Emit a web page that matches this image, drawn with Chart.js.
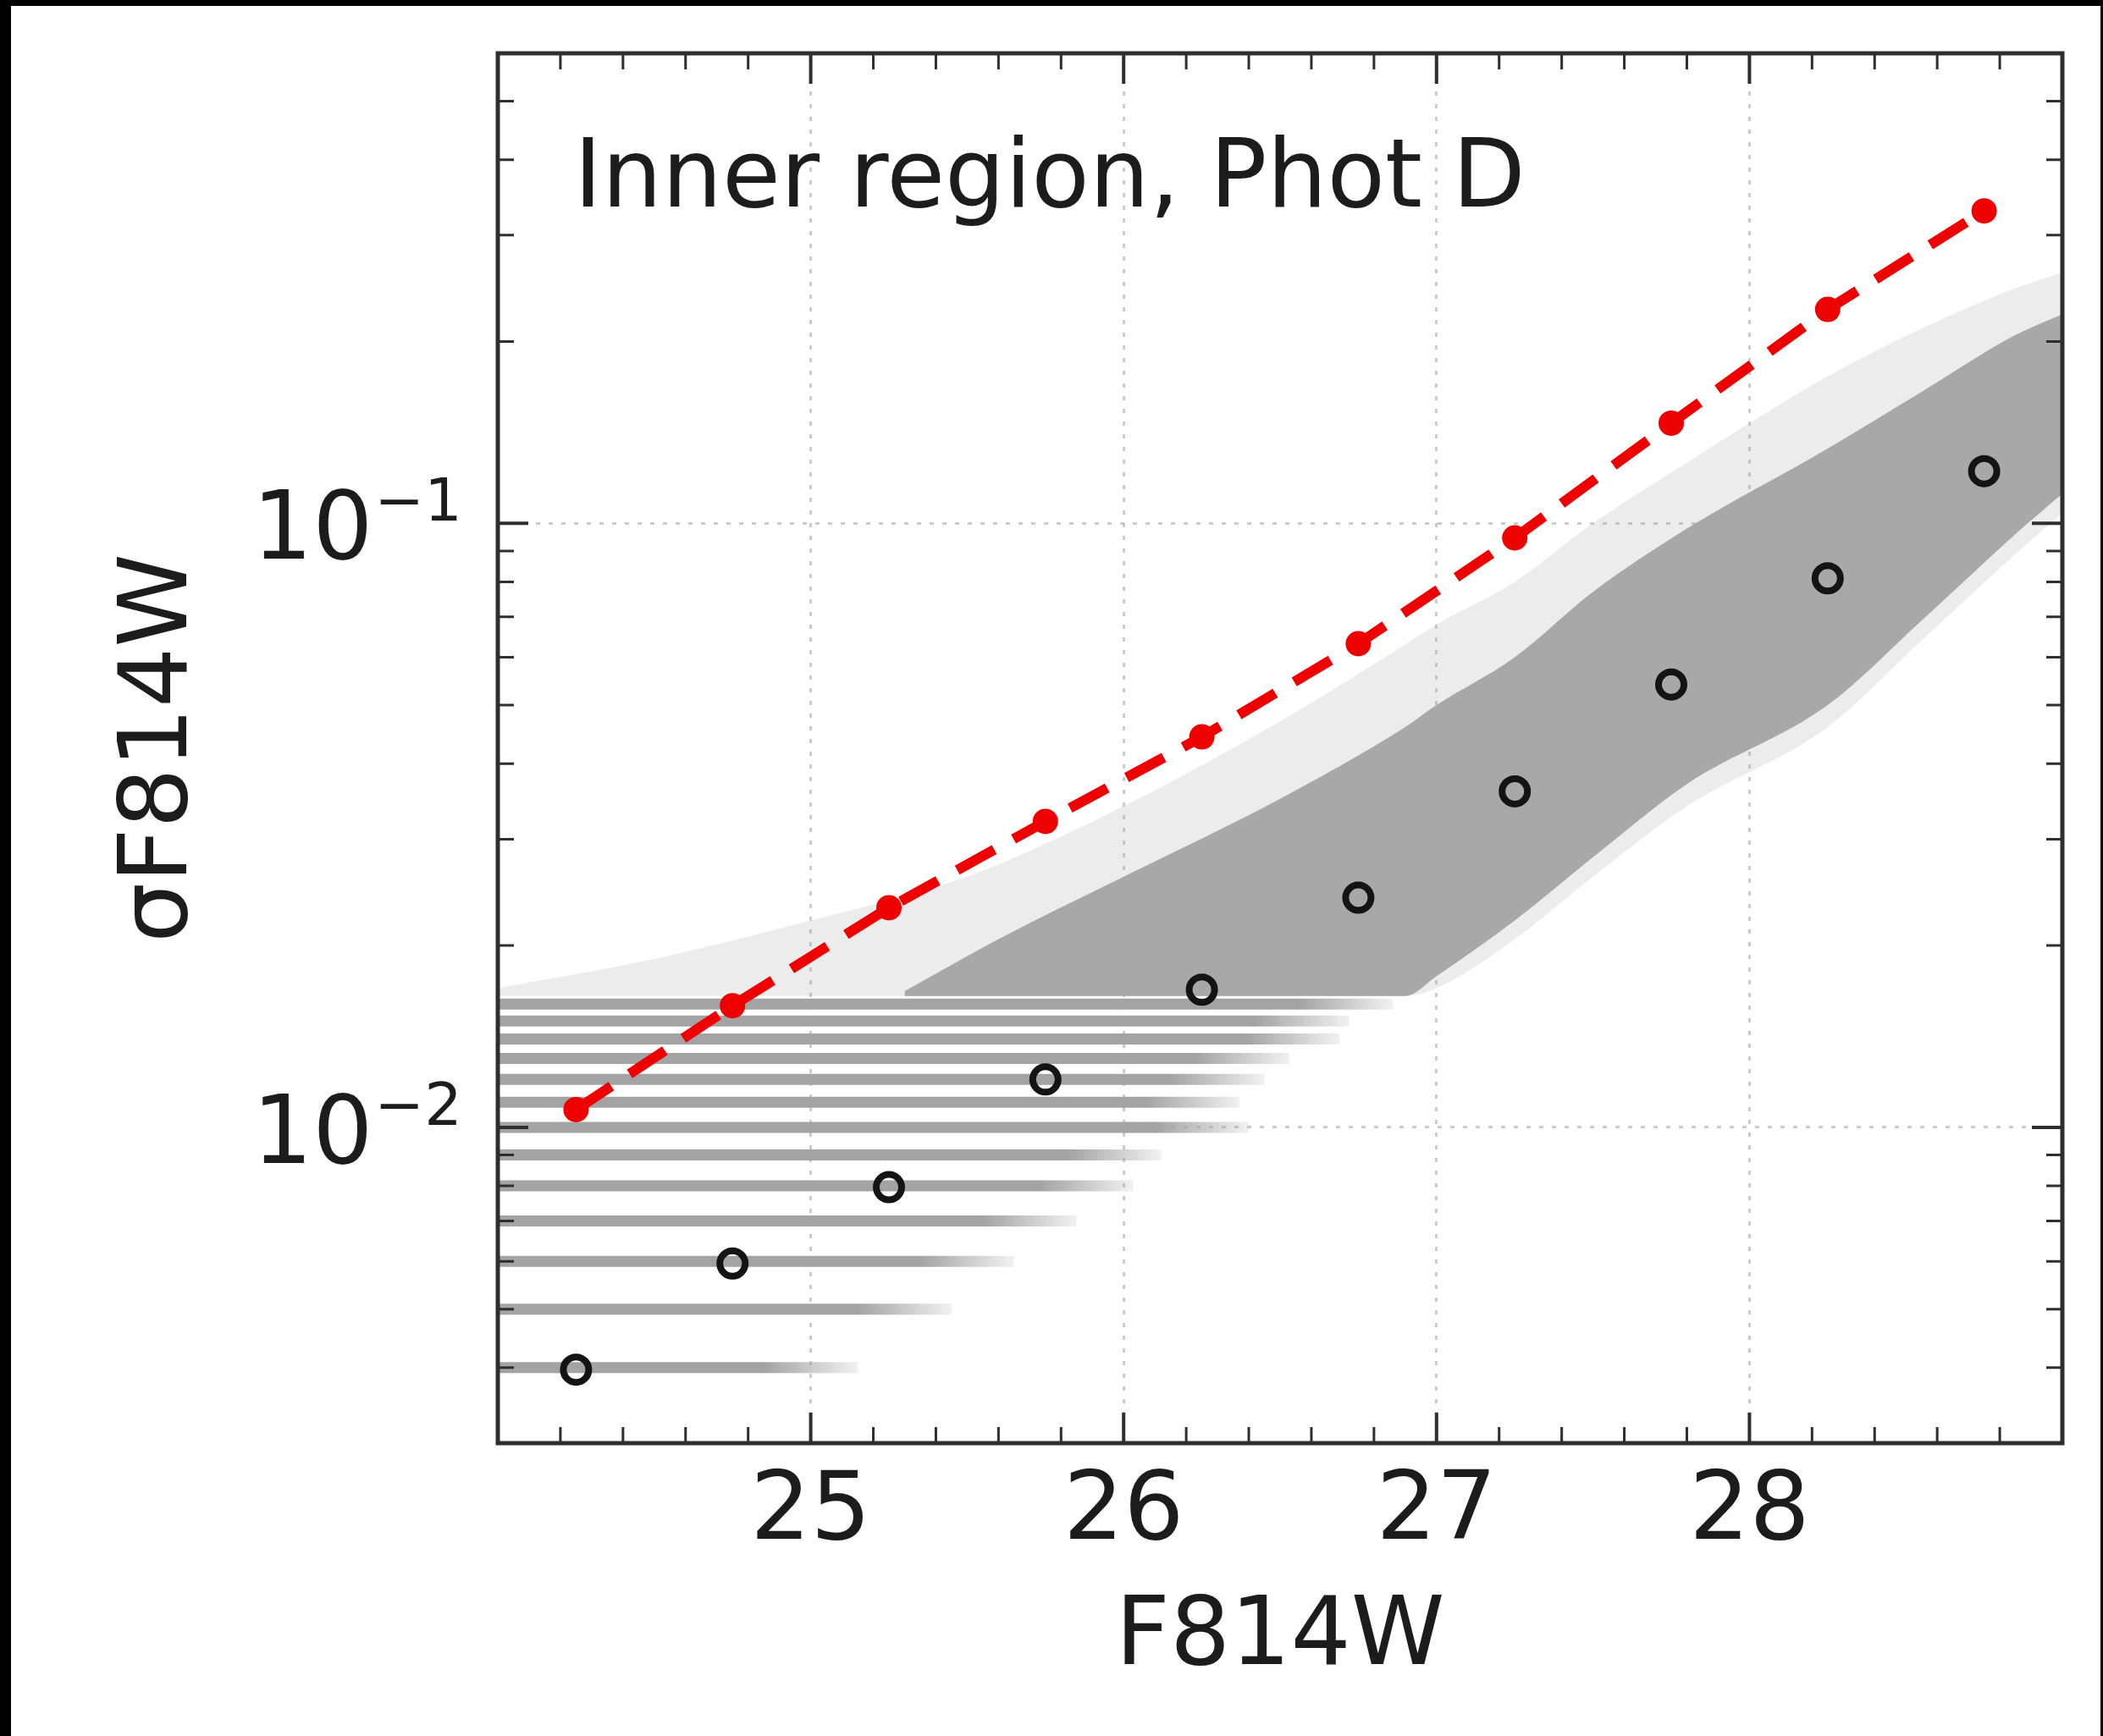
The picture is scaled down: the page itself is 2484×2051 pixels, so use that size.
<!DOCTYPE html>
<html>
<head>
<meta charset="utf-8">
<script src="https://cdn.jsdelivr.net/npm/chart.js@4.4.1/dist/chart.umd.min.js"></script>
<style>
  html, body { margin: 0; padding: 0; background: #ffffff; }
  body { width: 2484px; height: 2051px; overflow: hidden; position: relative; }
  #wrap { position: absolute; left: 0; top: 0; width: 2484px; height: 2051px; }
  #edge { position: absolute; left: 0; top: 0; width: 2484px; height: 2051px; box-sizing: border-box;
          border-left: 13px solid #000; border-top: 7px solid #000; border-right: 3px solid #000; pointer-events: none; }
</style>
</head>
<body>
<div id="wrap"><canvas id="c" width="2484" height="2051"></canvas></div>
<div id="edge"></div>
<script>
// ---------------- data ----------------
const magBins     = [24.25, 24.75, 25.25, 25.75, 26.25, 26.75, 27.25, 27.75, 28.25, 28.75];
const sigmaMedian = [0.00397, 0.00595, 0.00796, 0.0120, 0.0169, 0.0240, 0.0360, 0.0541, 0.0811, 0.122];
const sigmaLimit  = [0.0107, 0.0159, 0.0231, 0.0321, 0.0443, 0.0632, 0.0946, 0.1465, 0.226, 0.329];

// quantised error "streaks" of bright stars (sigma level, faint end magnitude)
const streakSigma = [0.004, 0.005, 0.006, 0.007, 0.008, 0.009, 0.010, 0.011, 0.012, 0.013, 0.014, 0.015, 0.016];
const streakEnd   = [25.15, 25.45, 25.65, 25.85, 26.03, 26.12, 26.40, 26.37, 26.45, 26.53, 26.69, 26.72, 26.86];
const streakStart = 24.0;

// envelope of the dense part of the star cloud
const denseMag   = [25.3, 25.6, 26.0, 26.5, 26.9, 27.0, 27.25, 27.5, 27.8, 28.25, 28.55, 28.85, 29.0];
const denseUpper = [0.0168, 0.0205, 0.026, 0.035, 0.046, 0.050, 0.060, 0.077, 0.098, 0.133, 0.165, 0.205, 0.222];
const denseLower = [0.0165, 0.0165, 0.0165, 0.0165, 0.0165, 0.0178, 0.022, 0.028, 0.037, 0.050, 0.069, 0.096, 0.112];

// envelope of the sparse outskirts of the star cloud
const haloMag   = [24.0, 24.5, 25.0, 25.5, 26.0, 26.5, 26.9, 27.0, 27.25, 27.5, 27.8, 28.25, 28.55, 28.85, 29.0];
const haloUpper = [0.017, 0.019, 0.022, 0.026, 0.034, 0.047, 0.063, 0.068, 0.080, 0.100, 0.126, 0.175, 0.21, 0.245, 0.26];
const haloLower = [0.0165, 0.0165, 0.0165, 0.0165, 0.0165, 0.0165, 0.0165, 0.0170, 0.0205, 0.026, 0.034, 0.046, 0.064, 0.089, 0.104];

const xRange = [24.0, 29.0];
const yRange = [0.003, 0.6];
const xTickLabels = ['25', '26', '27', '28'];
const yLabelValues = [0.01, 0.1];
const yLabelBase = ['10', '10'];
const yLabelExp  = ['\u22122', '\u22121'];
const panelLabel = 'Inner region, Phot D';
const xTitle = 'F814W';
const yTitle = '\u03C3F814W';

// ---------------- build datasets ----------------
const pts = (xs, ys) => xs.map((v, i) => ({ x: v, y: ys[i] }));
const FONT = 'DejaVu Sans';
Chart.defaults.font.family = FONT;

const datasets = [];
datasets.push({ // red limit line
  label: 'limit', data: pts(magBins, sigmaLimit), order: 0,
  borderColor: 'rgb(238,0,0)', borderWidth: 12, borderDash: [50, 26], tension: 0,
  pointRadius: 15, pointBackgroundColor: 'rgb(238,0,0)', pointBorderWidth: 0, fill: false
});
datasets.push({ // median open circles
  label: 'median', data: pts(magBins, sigmaMedian), order: 1, showLine: false,
  pointRadius: 15, pointBorderWidth: 8, pointBorderColor: '#141414', pointBackgroundColor: 'rgba(0,0,0,0)', fill: false
});
streakSigma.forEach((s, i) => {
  datasets.push({
    label: 'streak' + i, data: pts([streakStart, streakEnd[i]], [s, s]), order: 2,
    borderWidth: 13, pointRadius: 0, fill: false, borderCapStyle: 'butt',
    borderColor: (c) => {
      const ch = c.chart, xs = ch.scales.x;
      if (!xs || !ch.chartArea) return 'rgb(163,163,163)';
      const x0 = xs.getPixelForValue(streakEnd[i] - 0.3), x1 = xs.getPixelForValue(streakEnd[i]);
      const g = ch.ctx.createLinearGradient(x0, 0, x1, 0);
      g.addColorStop(0, 'rgba(163,163,163,1)');
      g.addColorStop(1, 'rgba(163,163,163,0.15)');
      return g;
    }
  });
});
const denseIdx = datasets.length;
datasets.push({ label: 'denseUpper', data: pts(denseMag, denseUpper), order: 3, borderWidth: 0, pointRadius: 0,
  cubicInterpolationMode: 'monotone', fill: { target: denseIdx + 1 }, backgroundColor: 'rgb(168,168,168)' });
datasets.push({ label: 'denseLower', data: pts(denseMag, denseLower), order: 3, borderWidth: 0, pointRadius: 0,
  cubicInterpolationMode: 'monotone', fill: false });
const haloIdx = datasets.length;
datasets.push({ label: 'haloUpper', data: pts(haloMag, haloUpper), order: 4, borderWidth: 0, pointRadius: 0,
  cubicInterpolationMode: 'monotone', fill: { target: haloIdx + 1 }, backgroundColor: 'rgba(170,170,170,0.22)' });
datasets.push({ label: 'haloLower', data: pts(haloMag, haloLower), order: 4, borderWidth: 0, pointRadius: 0,
  cubicInterpolationMode: 'monotone', fill: false });

// ---------------- decorations: frame, inward ticks, y labels, panel text ----------------
const decor = {
  id: 'decor',
  afterDraw(chart) {
    const { ctx, chartArea: a, scales: { x, y } } = chart;
    ctx.save();
    ctx.strokeStyle = '#2e2e2e';
    x.ticks.forEach(t => {
      const px = x.getPixelForValue(t.value);
      const major = Math.abs(t.value - Math.round(t.value)) < 1e-6;
      const len = major ? 36 : 19;
      ctx.lineWidth = major ? 4 : 3;
      ctx.beginPath();
      ctx.moveTo(px, a.bottom); ctx.lineTo(px, a.bottom - len);
      ctx.moveTo(px, a.top); ctx.lineTo(px, a.top + len);
      ctx.stroke();
    });
    y.ticks.forEach(t => {
      const py = y.getPixelForValue(t.value);
      const lg = Math.log10(t.value);
      const major = Math.abs(lg - Math.round(lg)) < 1e-6;
      const len = major ? 36 : 19;
      ctx.lineWidth = major ? 4 : 3;
      ctx.beginPath();
      ctx.moveTo(a.left, py); ctx.lineTo(a.left + len, py);
      ctx.moveTo(a.right, py); ctx.lineTo(a.right - len, py);
      ctx.stroke();
    });
    ctx.lineWidth = 5;
    ctx.strokeRect(a.left, a.top, a.right - a.left, a.bottom - a.top);

    // y tick labels (10 with superscript exponent)
    ctx.fillStyle = '#1c1c1c';
    ctx.textAlign = 'left';
    ctx.textBaseline = 'alphabetic';
    yLabelValues.forEach((v, i) => {
      const py = y.getPixelForValue(v);
      const x0 = a.left - 290;
      ctx.font = '112px "' + FONT + '"';
      const wb = ctx.measureText(yLabelBase[i]).width;
      ctx.fillText(yLabelBase[i], x0, py + 42);
      ctx.font = '70px "' + FONT + '"';
      ctx.fillText(yLabelExp[i], x0 + wb + 2, py + 42 - 45);
    });

    // panel label
    ctx.font = '112px "' + FONT + '"';
    ctx.fillText(panelLabel, a.left + 90, a.top + 181);
    ctx.restore();
  }
};

const gridColor = 'rgba(185,185,185,0.75)';
new Chart(document.getElementById('c'), {
  type: 'line',
  data: { datasets },
  plugins: [decor],
  options: {
    responsive: false, animation: false, devicePixelRatio: 1,
    layout: { padding: { left: 120, top: 63, right: 48, bottom: 43 } },
    plugins: { legend: { display: false }, tooltip: { enabled: false } },
    scales: {
      x: {
        type: 'linear', position: 'bottom', min: xRange[0], max: xRange[1],
        afterBuildTicks: (s) => {
          const t = [];
          for (let k = 0; k <= 25; k++) t.push({ value: Math.round((xRange[0] + k * 0.2) * 10) / 10 });
          s.ticks = t;
        },
        afterFit: (s) => { s.height = 303; },
        ticks: {
          autoSkip: false, maxRotation: 0, padding: 17, color: '#1c1c1c', font: { size: 112 },
          callback: (v) => { const l = String(Math.round(v * 10) / 10); return xTickLabels.includes(l) ? l : ''; }
        },
        grid: {
          drawTicks: false, lineWidth: 3,
          color: (c) => (c.tick && xTickLabels.includes(String(c.tick.value))) ? gridColor : 'rgba(0,0,0,0)'
        },
        border: { display: false, dash: [5, 10] },
        title: { display: true, text: xTitle, color: '#1c1c1c', font: { size: 112 }, padding: { top: 4, bottom: 4 } }
      },
      y: {
        type: 'logarithmic', position: 'left', min: yRange[0], max: yRange[1],
        afterBuildTicks: (s) => {
          const t = [];
          for (let e = -3; e <= -1; e++) for (let m = 1; m <= 9; m++) {
            const v = parseFloat((m * Math.pow(10, e)).toPrecision(3));
            if (v >= yRange[0] - 1e-9 && v <= yRange[1] + 1e-9) t.push({ value: v });
          }
          s.ticks = t;
        },
        afterFit: (s) => { s.width = 468; },
        ticks: { display: false },
        grid: {
          drawTicks: false, lineWidth: 3,
          color: (c) => (c.tick && yLabelValues.some(v => Math.abs(v - c.tick.value) < 1e-9)) ? gridColor : 'rgba(0,0,0,0)'
        },
        border: { display: false, dash: [5, 10] },
        title: { display: true, text: yTitle, color: '#1c1c1c', font: { size: 112 }, padding: { top: 4, bottom: 4 } }
      }
    }
  }
});
</script>
</body>
</html>
